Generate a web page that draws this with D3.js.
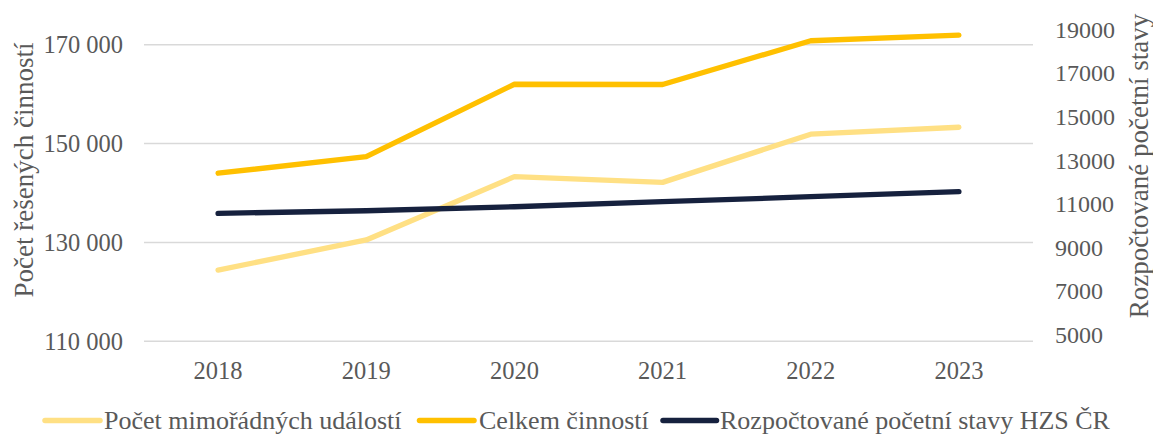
<!DOCTYPE html>
<html>
<head>
<meta charset="utf-8">
<script src="https://cdn.jsdelivr.net/npm/d3@7"></script>
<style>
html,body{margin:0;padding:0;background:#fff;}
svg{display:block;}
</style>
</head>
<body>
<svg id="chart" width="1153" height="435"></svg>
<script>
const years = ["2018","2019","2020","2021","2022","2023"];
const mimoradne = [124400, 130500, 143300, 142150, 151900, 153300];
const celkem = [144000, 147350, 162000, 161950, 170800, 171950];
const stavy = [10560, 10680, 10865, 11095, 11325, 11555];
const leftTicks = [110000, 130000, 150000, 170000];
const rightTicks = [5000, 7000, 9000, 11000, 13000, 15000, 17000, 19000];
const seriesNames = ["Počet mimořádných událostí", "Celkem činností", "Rozpočtované početní stavy HZS ČR"];
const leftTitle = "Počet řešených činností";
const rightTitle = "Rozpočtované početní stavy";

const colors = ["#FFE084", "#FFC000", "#16213E"];
const textColor = "#595959";
const FONT = "Liberation Serif";

const svg = d3.select("#chart");
const plotL = 144, plotR = 1033;

const x = d3.scalePoint().domain(years).range([plotL, plotR]).padding(0.5);
const yL = d3.scaleLinear().domain([110000, 170000]).range([341.3, 44.7]);
const yR = d3.scaleLinear().domain([5000, 19000]).range([334.5, 29.5]);

const fmt = v => d3.format(",")(v).replace(/,/g, " ");

// gridlines
svg.append("g").selectAll("line").data(leftTicks).join("line")
  .attr("x1", plotL).attr("x2", plotR)
  .attr("y1", d => yL(d)).attr("y2", d => yL(d))
  .attr("stroke", "#D9D9D9").attr("stroke-width", 1.4);

// left axis labels
svg.append("g").selectAll("text").data(leftTicks).join("text")
  .attr("x", 123).attr("y", d => yL(d) + 8.3)
  .attr("font-family", FONT)
  .attr("text-anchor", "end").attr("font-size", 24.5).attr("fill", textColor)
  .text(d => fmt(d));

// right axis labels
svg.append("g").selectAll("text").data(rightTicks).join("text")
  .attr("x", 1055).attr("y", d => yR(d) + 8.3)
  .attr("font-family", FONT)
  .attr("text-anchor", "start").attr("font-size", 24).attr("fill", textColor)
  .text(d => d);

// x axis labels
svg.append("g").selectAll("text").data(years).join("text")
  .attr("x", d => x(d)).attr("y", 379)
  .attr("font-family", FONT)
  .attr("text-anchor", "middle").attr("font-size", 24.5).attr("fill", textColor)
  .text(d => d);

// axis titles
svg.append("text")
  .attr("transform", "translate(32.5,170) rotate(-90)")
  .attr("font-family", FONT)
  .attr("text-anchor", "middle").attr("font-size", 27).attr("fill", textColor)
  .text(leftTitle);
svg.append("text")
  .attr("transform", "translate(1147.5,166) rotate(-90)")
  .attr("font-family", FONT)
  .attr("text-anchor", "middle").attr("font-size", 27).attr("fill", textColor)
  .text(rightTitle);

// lines
const lineL = d3.line().x((d, i) => x(years[i])).y(d => yL(d));
const lineR = d3.line().x((d, i) => x(years[i])).y(d => yR(d));
const drawLine = (data, gen, color) => svg.append("path")
  .attr("d", gen(data)).attr("fill", "none").attr("stroke", color)
  .attr("stroke-width", 5.3).attr("stroke-linecap", "round").attr("stroke-linejoin", "round");
drawLine(mimoradne, lineL, colors[0]);
drawLine(celkem, lineL, colors[1]);
drawLine(stavy, lineR, colors[2]);

// legend
const legendItems = [
  {lx1: 45, lx2: 100, tx: 104},
  {lx1: 419.5, lx2: 474, tx: 479},
  {lx1: 663, lx2: 716.5, tx: 720}
];
const lg = svg.append("g");
legendItems.forEach((it, i) => {
  lg.append("line").attr("x1", it.lx1).attr("x2", it.lx2).attr("y1", 420.5).attr("y2", 420.5)
    .attr("stroke", colors[i]).attr("stroke-width", 5.5).attr("stroke-linecap", "round");
  lg.append("text").attr("x", it.tx).attr("y", 429.3).attr("font-size", 26).attr("fill", textColor)
    .attr("font-family", FONT)
    .text(seriesNames[i]);
});
</script>
</body>
</html>
